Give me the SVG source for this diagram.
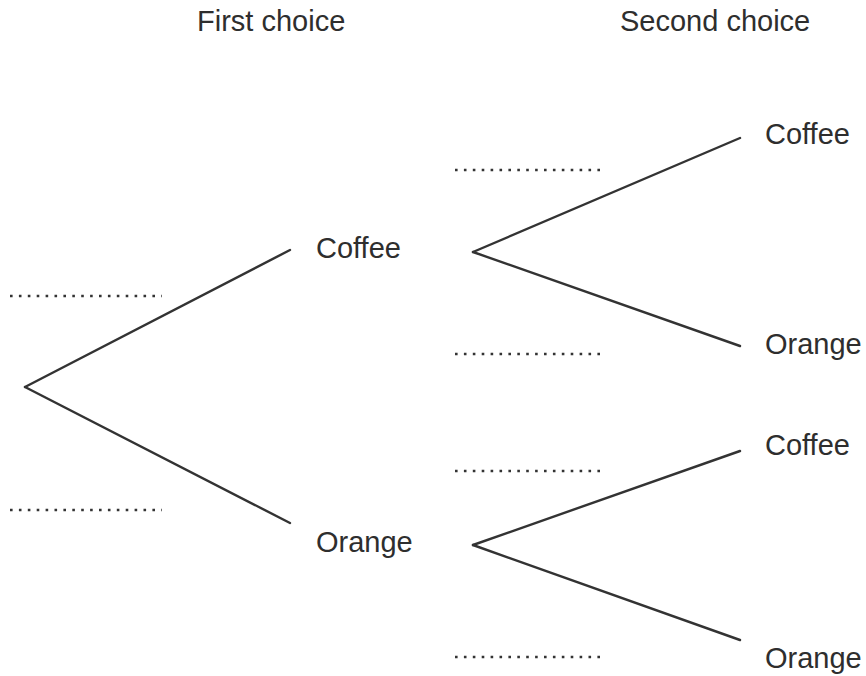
<svg xmlns="http://www.w3.org/2000/svg" width="866" height="676" viewBox="0 0 866 676">
  <style>
    .lbl { font-family: "Liberation Sans", Arial, sans-serif; font-size: 29px; fill: #2e2e2e; }
    .branch { stroke: #333; stroke-width: 2.4; fill: none; stroke-linecap: round; }
    .blank { stroke: #333; stroke-width: 2.6; stroke-dasharray: 2.6 6.3; fill: none; }
  </style>
  <rect width="866" height="676" fill="#fff"/>
  <g id="headers">
    <text class="lbl" x="197" y="31">First choice</text>
    <text class="lbl" x="620" y="31">Second choice</text>
  </g>
  <g id="connectors">
    <line class="branch" x1="25" y1="387" x2="290" y2="250"/>
    <line class="branch" x1="25" y1="387" x2="290" y2="523"/>
    <line class="branch" x1="473" y1="252" x2="740" y2="138"/>
    <line class="branch" x1="473" y1="252" x2="740" y2="346"/>
    <line class="branch" x1="473" y1="545" x2="740" y2="451"/>
    <line class="branch" x1="473" y1="545" x2="740" y2="640"/>
  </g>
  <g id="blanks">
    <line class="blank" x1="10" y1="296" x2="162" y2="296"/>
    <line class="blank" x1="10" y1="510" x2="162" y2="510"/>
    <line class="blank" x1="455" y1="170" x2="605" y2="170"/>
    <line class="blank" x1="455" y1="354" x2="605" y2="354"/>
    <line class="blank" x1="455" y1="471" x2="605" y2="471"/>
    <line class="blank" x1="455" y1="657" x2="605" y2="657"/>
  </g>
  <g id="first-coffee"><text class="lbl" x="316" y="258">Coffee</text></g>
  <g id="first-orange"><text class="lbl" x="316" y="552">Orange</text></g>
  <g id="second-coffee-1"><text class="lbl" x="765" y="144">Coffee</text></g>
  <g id="second-orange-1"><text class="lbl" x="765" y="354">Orange</text></g>
  <g id="second-coffee-2"><text class="lbl" x="765" y="455">Coffee</text></g>
  <g id="second-orange-2"><text class="lbl" x="765" y="668">Orange</text></g>
</svg>
